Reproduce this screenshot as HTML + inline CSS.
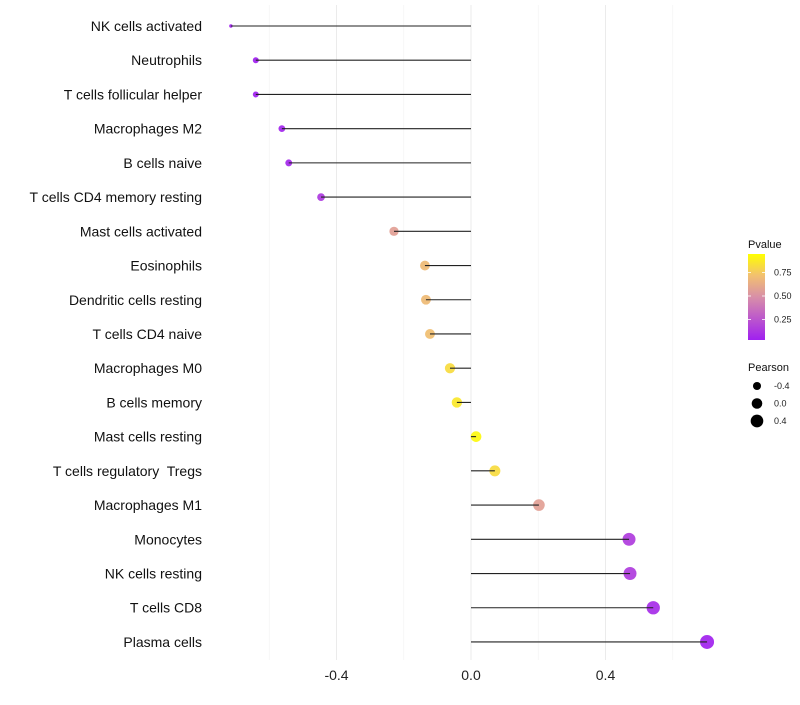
<!DOCTYPE html>
<html><head><meta charset="utf-8"><style>
body{margin:0;background:#fff;font-family:"Liberation Sans",sans-serif}
text{white-space:pre}
</style></head><body>
<svg id="chart" width="800" height="700" xmlns="http://www.w3.org/2000/svg">
<defs><linearGradient id="pg" x1="0" y1="1" x2="0" y2="0">
<stop offset="0" stop-color="#A020F0"/><stop offset="0.5" stop-color="#D88FA8"/><stop offset="0.75" stop-color="#F2C070"/><stop offset="1" stop-color="#FFFF00"/></linearGradient></defs>
<g id="grid"></g><g id="points"></g><g id="marks"></g><g id="labels"></g><g id="legend"></g>
</svg>
<script>
const categories=["NK cells activated","Neutrophils","T cells follicular helper","Macrophages M2","B cells naive","T cells CD4 memory resting","Mast cells activated","Eosinophils","Dendritic cells resting","T cells CD4 naive","Macrophages M0","B cells memory","Mast cells resting","T cells regulatory  Tregs","Macrophages M1","Monocytes","NK cells resting","T cells CD8","Plasma cells"];
const pearson=[-0.714,-0.64,-0.64,-0.5625,-0.542,-0.446,-0.229,-0.137,-0.134,-0.122,-0.0625,-0.042,0.015,0.071,0.202,0.47,0.473,0.542,0.702];
const pvalues=[0.0,0.0,0.0,0.02,0.03,0.1,0.55,0.7,0.7,0.72,0.85,0.9,0.97,0.85,0.55,0.12,0.12,0.05,0.01];
const xTicks=[-0.4,0.0,0.4];
const xMinor=[-0.6,-0.2,0.2,0.6];
const legendP=[0.75,0.50,0.25];
const legendS=[-0.4,0.0,0.4];

const NS="http://www.w3.org/2000/svg";
const X=v=>471+v*336.25;
const Y=i=>26+i*34.22;
const R=v=>Math.sqrt(Math.max(3,9+29.8*(v+0.64)-(v<-0.68?5:0)));
function lerp(a,b,t){return a.map((x,i)=>Math.round(x+(b[i]-x)*t));}
function col(p){
  const stops=[[0,[160,32,240]],[0.5,[222,150,160]],[0.75,[242,195,105]],[1,[255,255,0]]];
  for(let i=1;i<stops.length;i++){if(p<=stops[i][0]){const t=(p-stops[i-1][0])/(stops[i][0]-stops[i-1][0]);return 'rgb('+lerp(stops[i-1][1],stops[i][1],t).join(',')+')';}}
  return 'rgb(255,255,0)';
}
function mk(parent,tag,attrs,text){const e=document.createElementNS(NS,tag);for(const k in attrs)e.setAttribute(k,attrs[k]);if(text!==undefined)e.textContent=text;document.getElementById(parent).appendChild(e);return e;}

xMinor.forEach(v=>{const e=mk('grid','line',{x1:X(v),x2:X(v),y1:5,y2:660,stroke:'#f3f3f3','stroke-width':0.6});

});
xTicks.forEach(v=>{const e=mk('grid','line',{x1:X(v),x2:X(v),y1:5,y2:660,stroke:'#ebebeb','stroke-width':1});


const t=mk('labels','text',{x:X(v),y:680,'text-anchor':'middle','font-size':14,fill:'#222'},v.toFixed(1));

});

categories.forEach((c,i)=>{
  const t=mk('labels','text',{x:202,y:Y(i)+5,'text-anchor':'end','font-size':14,fill:'#111','xml:space':'preserve'},c);
  
  
  const d=mk('points','circle',{cx:X(pearson[i]),cy:Y(i),r:R(pearson[i]),fill:col(pvalues[i]),opacity:0.92});
  
  
  const l=mk('marks','line',{x1:X(0),x2:X(pearson[i]),y1:Y(i),y2:Y(i),stroke:'#222','stroke-width':1.1});
  
  
});

const t1=mk('legend','text',{x:748,y:248,'font-size':11,fill:'#111'},'Pvalue');


const bar=mk('legend','rect',{x:748,y:254,width:17,height:86,fill:'url(#pg)'});


legendP.forEach(p=>{const y=343-p*94;
  mk('legend','line',{x1:748,x2:751,y1:y,y2:y,stroke:'#fff','stroke-width':0.8});
  mk('legend','line',{x1:762,x2:765,y1:y,y2:y,stroke:'#fff','stroke-width':0.8});
  const t=mk('legend','text',{x:774,y:y+3,'font-size':9,fill:'#222'},p.toFixed(2));
  
  });
const t2=mk('legend','text',{x:748,y:371,'font-size':11,fill:'#111'},'Pearson');


legendS.forEach((s,i)=>{const y=386+i*17.5;
  const c=mk('legend','circle',{cx:757,cy:y,r:R(s),fill:'#000'});
  
  
  const t=mk('legend','text',{x:774,y:y+3,'font-size':9,fill:'#222'},s.toFixed(1));
  
  });
</script>
</body></html>
